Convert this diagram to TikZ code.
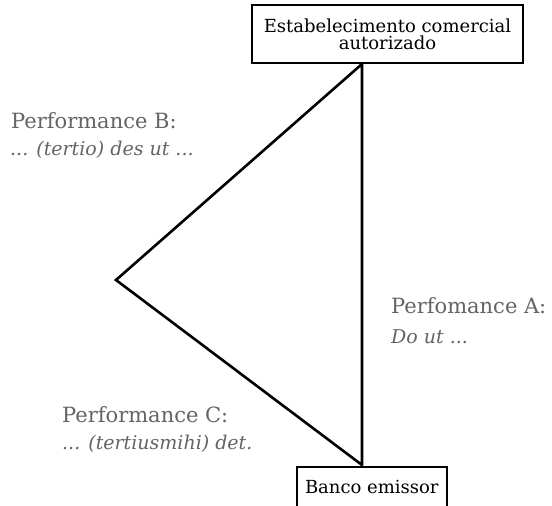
\documentclass[tikz,border=0pt]{standalone}
\usepackage{fontspec}
\setmainfont{DejaVu Serif}
\newfontfamily\boxfont{DejaVu Serif}
\definecolor{labgray}{RGB}{100,100,100}
\begin{document}
\begin{tikzpicture}[x=1pt,y=-1pt,
  boxnode/.style={draw=black,line width=1.6pt,fill=white,inner sep=0pt,align=center,font=\boxfont\fontsize{18}{17}\selectfont},
  side/.style={line width=2.6pt,line join=miter,line cap=round},
  labr/.style={anchor=base west,inner sep=0pt,text=labgray,font=\fontsize{21}{24}\selectfont},
  labi/.style={anchor=base west,inner sep=0pt,text=labgray,font=\fontsize{19}{24}\selectfont\itshape}]
\useasboundingbox (0,0) rectangle (552,506);
\fill[white] (0,0) rectangle (552,506);
\coordinate (top) at (362,64);
\coordinate (left) at (116,280);
\coordinate (bot) at (362,465);
\draw[side] (bot) -- (left) -- (top) -- (bot);
\node[boxnode,minimum width=271,minimum height=58] (est) at (387.5,34) {Estabelecimento comercial\\autorizado};
\node[boxnode,minimum width=150,text height=13pt,text depth=4pt,inner ysep=14pt,anchor=north west] (banco) at (296,466) {Banco emissor};
\node[labr] (pb1) at (11,128) {Performance B:};
\node[labi] (pb2) at (10,155) {... (tertio) des ut ...};
\node[labr] (pa1) at (391,313) {Perfomance A:};
\node[labi] (pa2) at (391,343) {Do ut ...};
\node[labr] (pc1) at (62,422) {Performance C:};
\node[labi] (pc2) at (62,449) {... (tertiusmihi) det.};
\end{tikzpicture}
\end{document}
